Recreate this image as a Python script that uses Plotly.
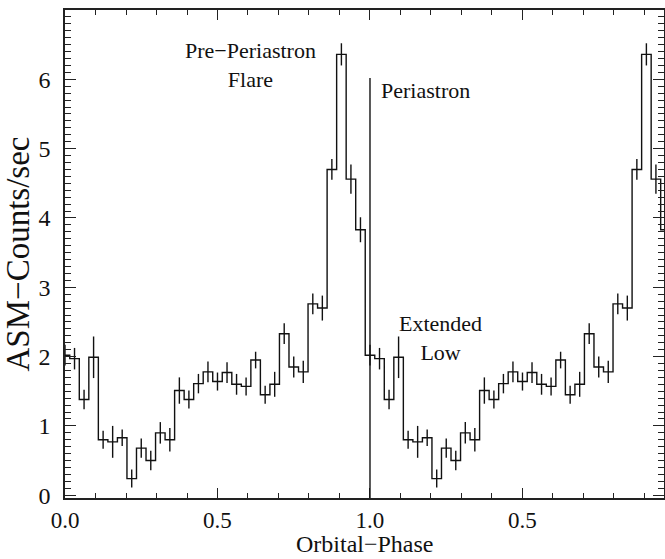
import numpy as np
import plotly.graph_objects as go

# ASM count rate per phase bin (32 bins per orbit, bin centres at k/32)
rate = [2.02, 1.97, 1.38, 1.99, 0.80, 0.77, 0.83, 0.24, 0.68, 0.50, 0.90, 0.80,
        1.51, 1.38, 1.61, 1.78, 1.64, 1.77, 1.60, 1.57, 1.95, 1.45, 1.60, 2.33,
        1.85, 1.78, 2.76, 2.70, 4.70, 6.36, 4.56, 3.83]
err = [0.15, 0.155, 0.14, 0.30, 0.13, 0.23, 0.12, 0.13, 0.14, 0.14, 0.155, 0.17,
       0.19, 0.13, 0.14, 0.15, 0.13, 0.15, 0.15, 0.13, 0.12, 0.13, 0.18, 0.15,
       0.15, 0.16, 0.15, 0.18, 0.15, 0.16, 0.21, 0.18]
n_cycles = 2
tick_vals = [0.0, 0.5, 1.0, 1.5]
tick_text = ["0.0", "0.5", "1.0", "0.5"]
periastron_phase = 1.0
periastron_top = 6.02

nb = len(rate)
phase = np.arange(nb * n_cycles) / nb
y = np.tile(rate, n_cycles)
e = np.tile(err, n_cycles)

FONT = "Liberation Serif, Times New Roman, serif"
fig = go.Figure()
fig.add_trace(go.Scatter(x=phase, y=y, mode="lines", line=dict(shape="hvh", color="#111", width=1.4),
                         hoverinfo="skip", showlegend=False))
fig.add_trace(go.Scatter(x=phase, y=y, mode="markers", marker=dict(size=0.1, color="#111"),
                         error_y=dict(type="data", array=e, width=0, thickness=1.4, color="#111"),
                         showlegend=False))
fig.add_shape(type="line", x0=periastron_phase, x1=periastron_phase, y0=-0.05, y1=periastron_top,
              xref="x", yref="y", line=dict(color="#111", width=1.4))

ann_font = dict(family=FONT, size=22, color="#111")
fig.add_annotation(x=0.607, y=6.21, text="Pre\u2212Periastron<br>Flare", showarrow=False,
                   xref="x", yref="y", font=ann_font, align="center")
fig.add_annotation(x=1.03, y=5.84, text="Periastron", showarrow=False, xanchor="left",
                   xref="x", yref="y", font=ann_font)
fig.add_annotation(x=1.23, y=2.27, text="Extended<br>Low", showarrow=False,
                   xref="x", yref="y", font=ann_font, align="center")
# x-axis title placed as an annotation for exact vertical placement
fig.add_annotation(x=0.5, y=0, xref="paper", yref="paper", yanchor="bottom", yshift=-61,
                   text="Orbital\u2212Phase", showarrow=False,
                   font=dict(family=FONT, size=24, color="#111"))

axis_common = dict(showline=True, linecolor="#222", linewidth=1.5, mirror="ticks",
                   ticks="inside", tickcolor="#222", tickwidth=1.3, showgrid=False,
                   zeroline=False, automargin=False)
fig.update_xaxes(range=[0, 1.964], tickvals=tick_vals, ticktext=tick_text, ticklen=10,
                 ticklabelstandoff=1, tickfont=dict(family=FONT, size=23, color="#111"),
                 minor=dict(dtick=0.1, tick0=0, ticks="inside", ticklen=5, tickcolor="#222", tickwidth=1.3),
                 **axis_common)
fig.update_yaxes(range=[-0.04, 7.0], dtick=1, tick0=0, ticklen=11,
                 ticklabelstandoff=8, tickfont=dict(family=FONT, size=24, color="#111"),
                 minor=dict(dtick=0.1, tick0=0, ticks="inside", ticklen=6, tickcolor="#222", tickwidth=1.3),
                 title=dict(text="ASM\u2212Counts/sec", font=dict(family=FONT, size=33, color="#111"), standoff=4),
                 **axis_common)
fig.update_layout(width=665, height=559, margin=dict(l=65, r=1, t=10, b=61),
                  plot_bgcolor="white", paper_bgcolor="white")
fig.write_html("out.html", config={"displayModeBar": False},
               post_script="document.body.style.margin='0';document.body.style.padding='0';")
